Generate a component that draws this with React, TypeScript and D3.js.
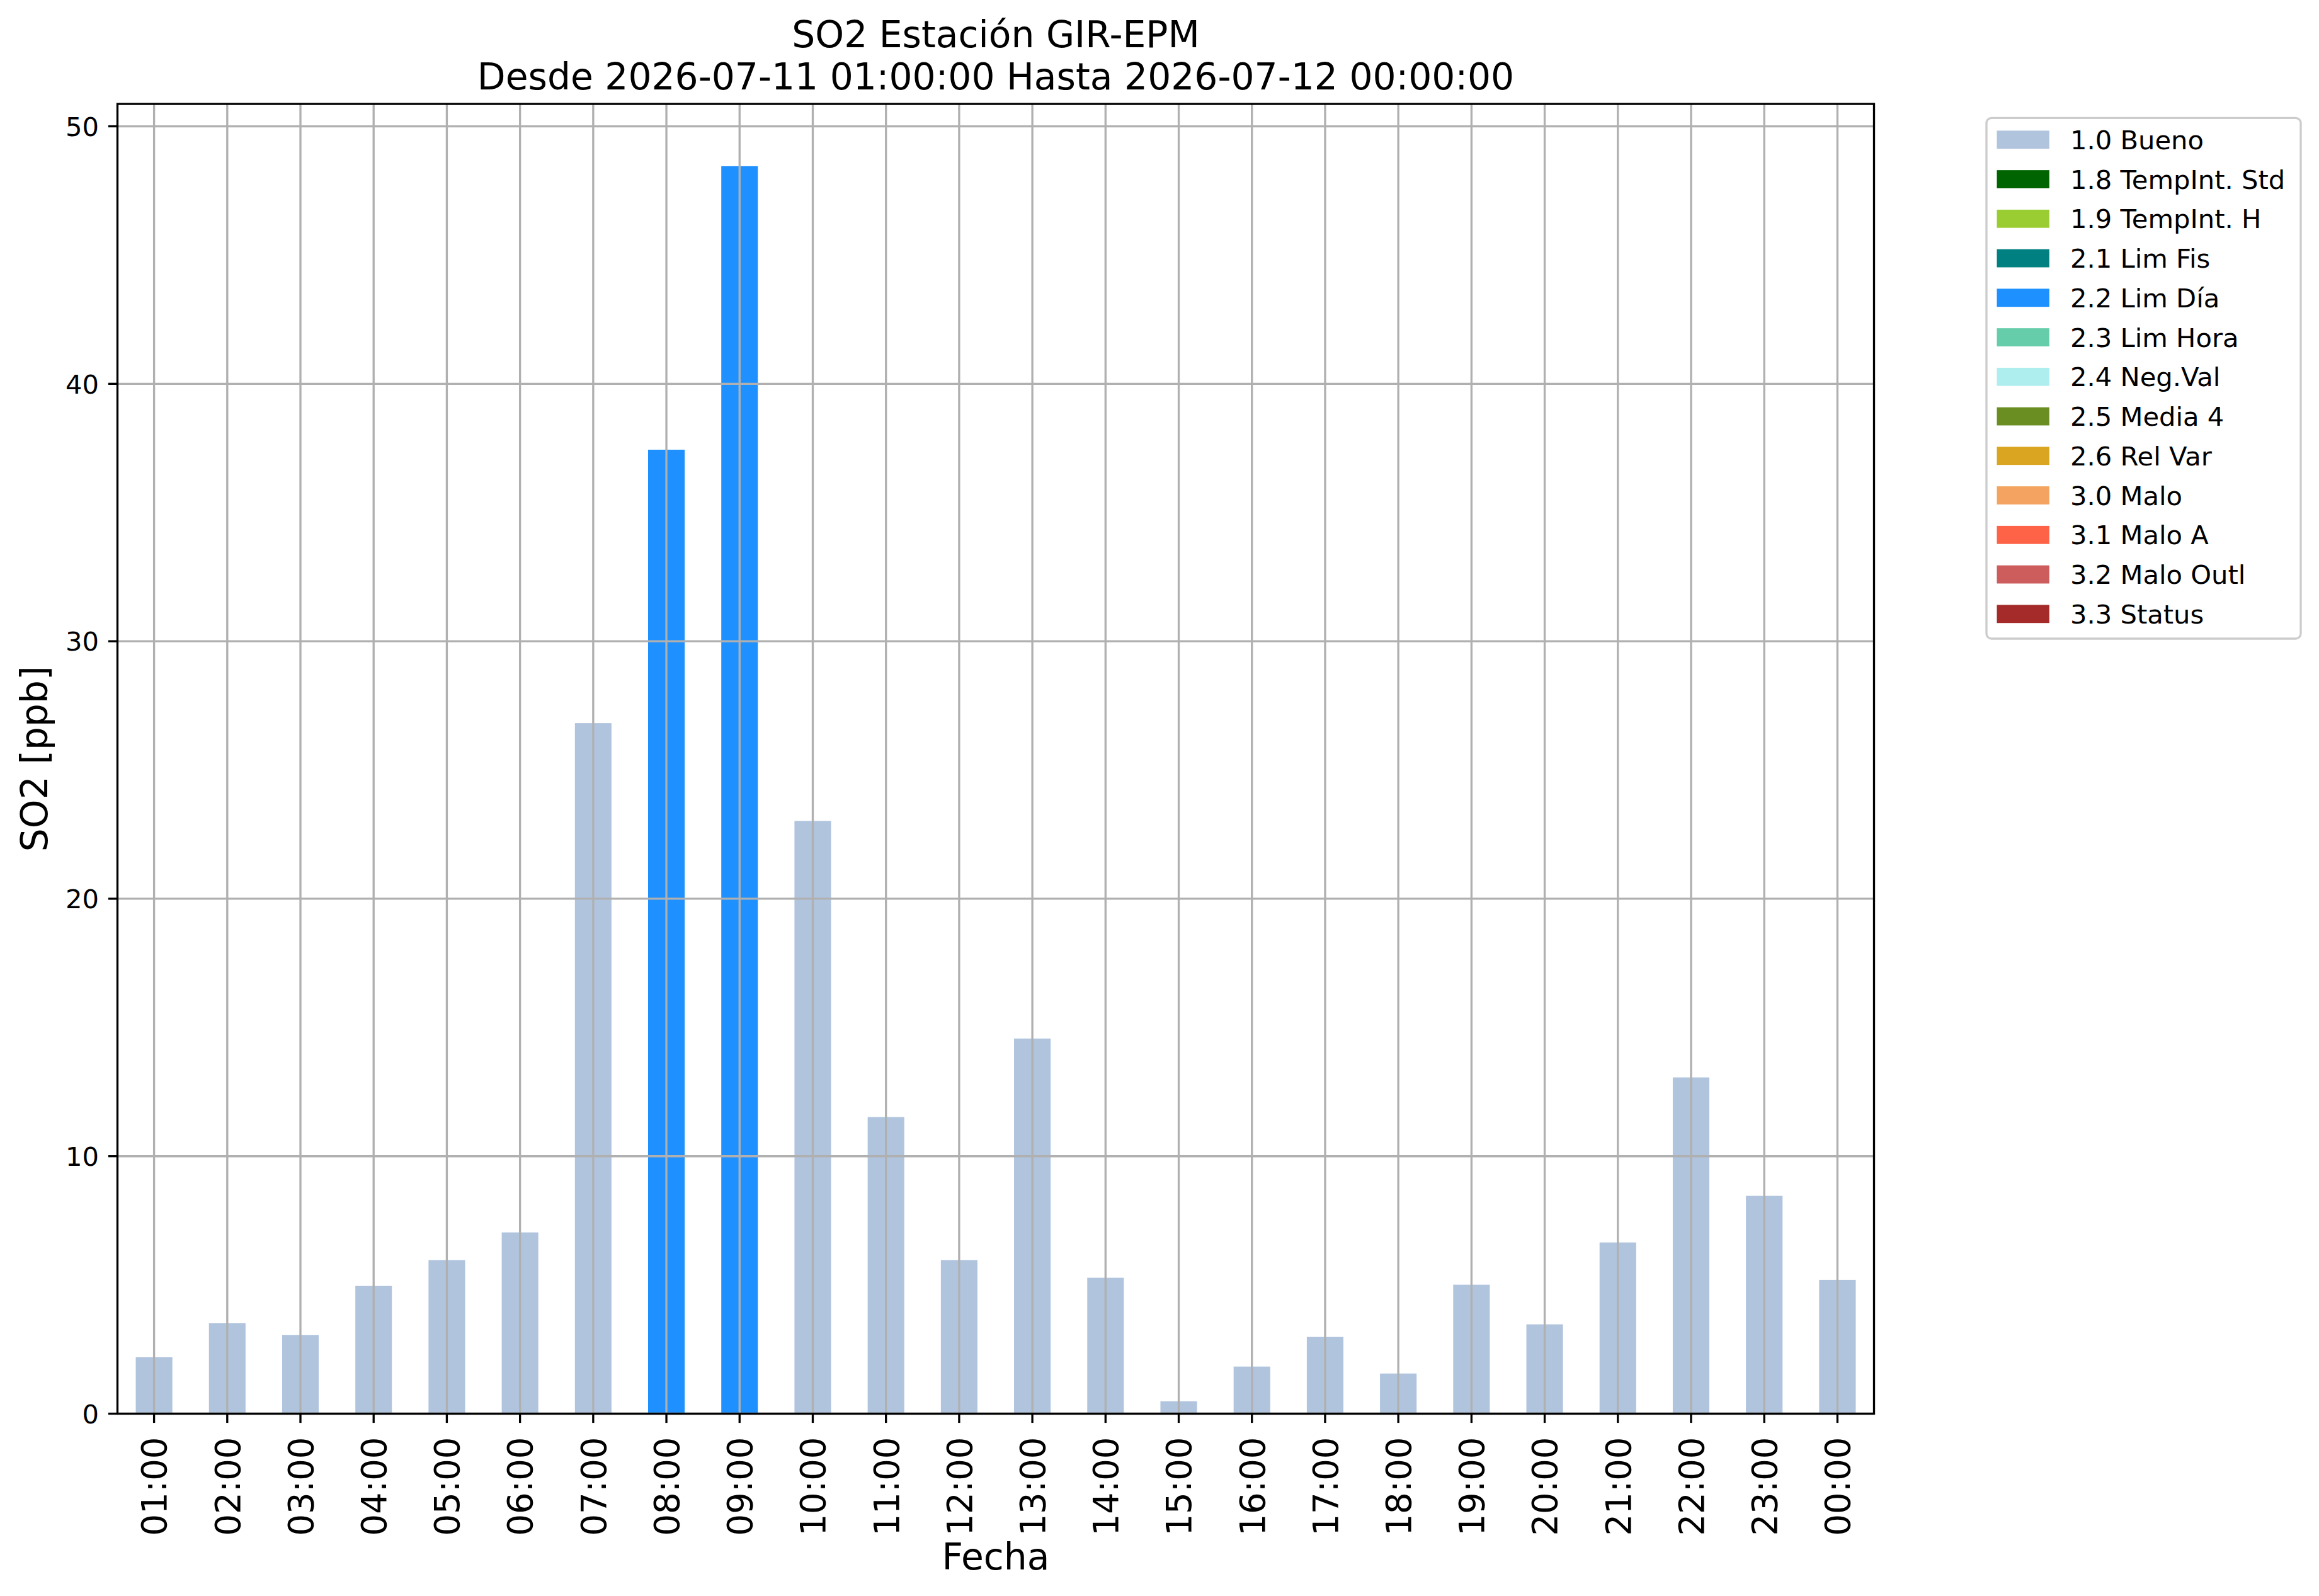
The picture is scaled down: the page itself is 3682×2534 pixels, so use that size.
import React, { useEffect, useRef } from "react"
import * as d3 from "d3"

// hourly SO2 values
const hours = [
  "01:00", "02:00", "03:00", "04:00", "05:00", "06:00", "07:00", "08:00",
  "09:00", "10:00", "11:00", "12:00", "13:00", "14:00", "15:00", "16:00",
  "17:00", "18:00", "19:00", "20:00", "21:00", "22:00", "23:00", "00:00",
]
const so2 = [
  2.19, 3.51, 3.05, 4.96, 5.96, 7.04, 26.82, 37.44,
  48.45, 23.02, 11.52, 5.96, 14.57, 5.28, 0.48, 1.83,
  2.98, 1.56, 5.01, 3.47, 6.65, 13.06, 8.46, 5.2,
]
const flags = [
  "1.0", "1.0", "1.0", "1.0", "1.0", "1.0", "1.0", "2.2",
  "2.2", "1.0", "1.0", "1.0", "1.0", "1.0", "1.0", "1.0",
  "1.0", "1.0", "1.0", "1.0", "1.0", "1.0", "1.0", "1.0",
]

// legend entries
const flagCodes = ["1.0", "1.8", "1.9", "2.1", "2.2", "2.3", "2.4", "2.5", "2.6", "3.0", "3.1", "3.2", "3.3"]
const flagNames = ["Bueno", "TempInt. Std", "TempInt. H", "Lim Fis", "Lim Día", "Lim Hora", "Neg.Val", "Media 4", "Rel Var", "Malo", "Malo A", "Malo Outl", "Status"]
const flagColors = ["#b0c4de", "#006400", "#9acd32", "#008080", "#1e90ff", "#66cdaa", "#afeeee", "#6b8e23", "#daa520", "#f4a460", "#ff6347", "#cd5c5c", "#a52a2a"]

const yTicks = [0, 10, 20, 30, 40, 50]

const W = 3682
const H = 2534
const FONT = "DejaVu Sans"

export default function App() {
  const ref = useRef(null)

  useEffect(() => {
    const svg = d3.select(ref.current)
    svg.selectAll("*").remove()

    const left = 186.5, right = 2975.5, top = 165, bottom = 2244.5
    const lw = 3.33

    const x = d3.scaleBand().domain(hours).range([left, right]).paddingInner(0.5).paddingOuter(0.25)
    const y = d3.scaleLinear().domain([0, 50.87]).range([bottom, top])
    const color = d3.scaleOrdinal().domain(flagCodes).range(flagColors)

    svg.append("rect").attr("width", W).attr("height", H).attr("fill", "white")

    // bars
    svg.append("g")
      .selectAll("rect")
      .data(so2)
      .enter()
      .append("rect")
      .attr("x", (d, i) => x(hours[i]))
      .attr("width", x.bandwidth())
      .attr("y", d => y(d))
      .attr("height", d => y(0) - y(d))
      .attr("fill", (d, i) => color(flags[i]))

    // grid on top of bars
    const grid = svg.append("g").attr("stroke", "#b0b0b0").attr("stroke-width", lw)
    grid.selectAll(".gx")
      .data(hours)
      .enter()
      .append("line")
      .attr("x1", d => x(d) + x.bandwidth() / 2)
      .attr("x2", d => x(d) + x.bandwidth() / 2)
      .attr("y1", top)
      .attr("y2", bottom)
    grid.selectAll(".gy")
      .data(yTicks)
      .enter()
      .append("line")
      .attr("x1", left)
      .attr("x2", right)
      .attr("y1", d => y(d))
      .attr("y2", d => y(d))

    // spines
    svg.append("rect")
      .attr("x", left).attr("y", top)
      .attr("width", right - left).attr("height", bottom - top)
      .attr("fill", "none").attr("stroke", "black").attr("stroke-width", lw)

    // y axis ticks
    const yAx = svg.append("g")
    yAx.selectAll("line")
      .data(yTicks)
      .enter()
      .append("line")
      .attr("x1", left - 14.6).attr("x2", left)
      .attr("y1", d => y(d)).attr("y2", d => y(d))
      .attr("stroke", "black").attr("stroke-width", lw)
    yAx.selectAll("text")
      .data(yTicks)
      .enter()
      .append("text")
      .attr("x", left - 29.5)
      .attr("y", d => y(d))
      .attr("dy", "0.364em")
      .attr("text-anchor", "end")
      .style("font-family", FONT)
      .style("font-size", "41.67px")
      .text(d => d)

    // x axis ticks
    const xAx = svg.append("g")
    xAx.selectAll("line")
      .data(hours)
      .enter()
      .append("line")
      .attr("x1", d => x(d) + x.bandwidth() / 2)
      .attr("x2", d => x(d) + x.bandwidth() / 2)
      .attr("y1", bottom).attr("y2", bottom + 14.6)
      .attr("stroke", "black").attr("stroke-width", lw)
    xAx.selectAll("text")
      .data(hours)
      .enter()
      .append("text")
      .attr("transform", d => "translate(" + (x(d) + x.bandwidth() / 2) + "," + 2281.5 + ") rotate(-90)")
      .attr("dy", "0.364em")
      .attr("text-anchor", "end")
      .style("font-family", FONT)
      .style("font-size", "54.5px")
      .text(d => d)

    // axis labels
    svg.append("text")
      .attr("transform", "translate(75," + (top + bottom) / 2 + ") rotate(-90)")
      .attr("text-anchor", "middle")
      .style("font-family", FONT)
      .style("font-size", "58.3px")
      .text("SO2 [ppb]")
    svg.append("text")
      .attr("x", (left + right) / 2)
      .attr("y", 2491.7)
      .attr("text-anchor", "middle")
      .style("font-family", FONT)
      .style("font-size", "58.3px")
      .text("Fecha")

    // title
    const title = ["SO2 Estación GIR-EPM", "Desde 2026-07-11 01:00:00 Hasta 2026-07-12 00:00:00"]
    svg.selectAll(".title")
      .data(title)
      .enter()
      .append("text")
      .attr("x", (left + right) / 2)
      .attr("y", (d, i) => 75 + i * 67)
      .attr("text-anchor", "middle")
      .style("font-family", FONT)
      .style("font-size", "58.3px")
      .text(d => d)

    // legend
    const legend = svg.append("g")
    legend.append("rect")
      .attr("x", 3154).attr("y", 187.3)
      .attr("width", 499).attr("height", 826.7)
      .attr("rx", 8).attr("ry", 8)
      .attr("fill", "white").attr("fill-opacity", 0.8)
      .attr("stroke", "#cccccc").attr("stroke-width", lw)
    const rowY = i => 221.8 + i * 62.75
    const item = legend.selectAll(".item")
      .data(flagCodes)
      .enter()
      .append("g")
    item.append("rect")
      .attr("x", 3170.5)
      .attr("y", (d, i) => rowY(i) - 14.4)
      .attr("width", 83.3)
      .attr("height", 28.8)
      .attr("fill", d => color(d))
    item.append("text")
      .attr("x", 3287)
      .attr("y", (d, i) => rowY(i))
      .attr("dy", "0.364em")
      .style("font-family", FONT)
      .style("font-size", "41.67px")
      .text((d, i) => d + " " + flagNames[i])
  }, [])

  return (
    <svg
      ref={ref}
      width={W}
      height={H}
      style={{ position: "absolute", left: 0, top: 0, display: "block" }}
    ></svg>
  )
}
